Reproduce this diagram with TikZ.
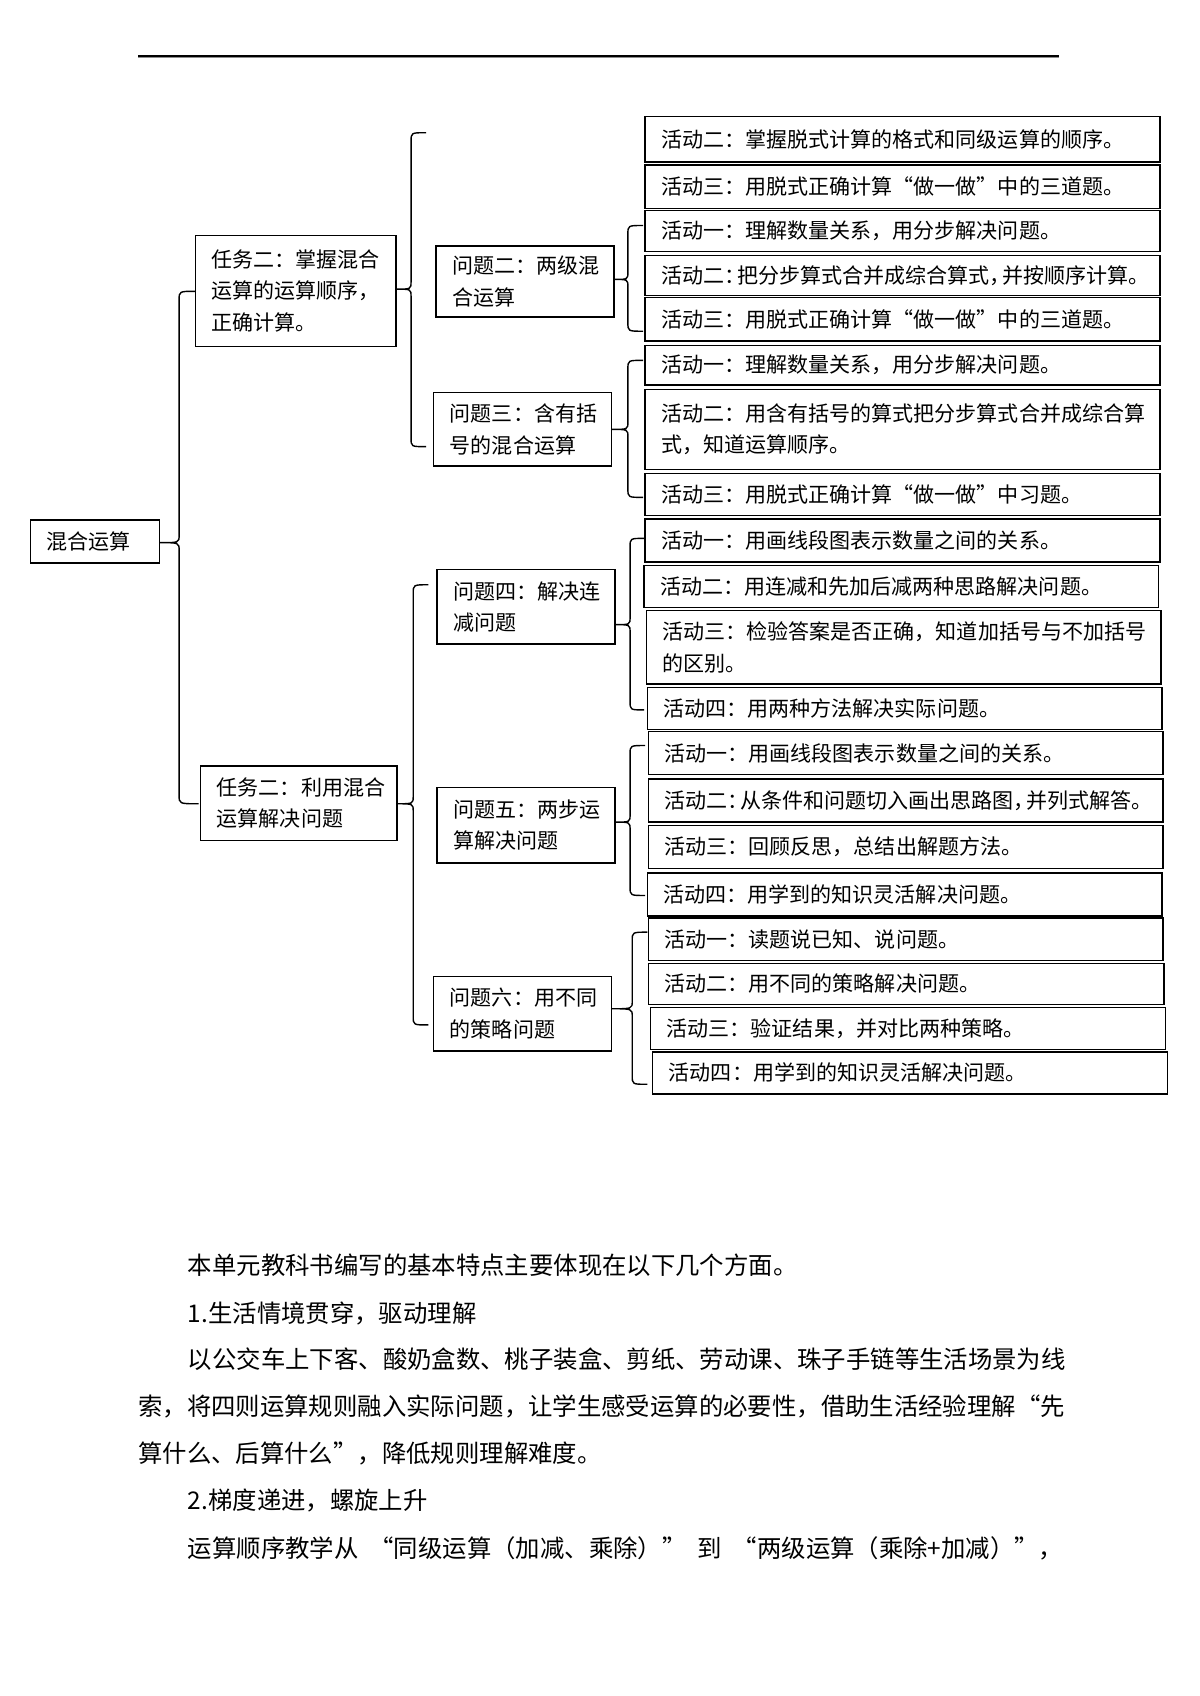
\documentclass[tikz,border=0pt]{standalone}
\usepackage{fontspec}
\setmainfont{Noto Sans CJK SC}
\newcommand{\abox}[6]{%
  \pgfmathsetmacro{\tw}{#4-30}%
  \node[box, minimum width=#4pt, minimum height=#5pt, text width=\tw pt] (#1) at (#2,#3) {#6};}
% #1 parent, #2 tip y, #3 x of vertical, #4 top hook x, #5 top y, #6 bottom hook x, #7 bottom y
\newcommand{\mybrace}[7]{%
  \draw[bracestyle] (#4,#5) .. controls (#3,#5) .. (#3,#5+8) -- (#3,#2-7)
    .. controls (#3,#2) .. (#1.east |- 0,#2)
    .. controls (#3,#2) .. (#3,#2+7) -- (#3,#7-8)
    .. controls (#3,#7) .. (#6,#7);}
\newcommand{\pk}{\kern-0.4em}
\begin{document}
\begin{tikzpicture}[x=1pt,y=-1pt,
  box/.style={draw=black, line width=1.3pt, rectangle, anchor=north west,
    inner xsep=15pt, inner ysep=0pt, outer sep=0pt, align=left,
    font=\fontsize{19.5}{29}\selectfont},
  bracestyle/.style={draw=black, line width=1.3pt},
  body/.style={anchor=west, inner sep=0pt, font=\fontsize{22.6}{30}\selectfont}]
\useasboundingbox (0,0) rectangle (1112,1572);
\fill[white] (0,0) rectangle (1112,1572);
% top rule
\draw[line width=1.6pt] (128,52) -- (982,52);
\draw[line width=0.8pt, black!45] (128,53.6) -- (982,53.6);

% root and tasks
\abox{root}{28}{482}{120}{40}{混合运算}
\abox{t1}{181}{218}{186}{103}{任务二：掌握混合\\运算的运算顺序，\\正确计算。}
\abox{t2}{186}{710}{182}{69}{任务二：利用混合\\运算解决问题}

% problems
\abox{p2}{404}{228}{165}{66}{问题二：两级混\\合运算}
\abox{p3}{402}{364}{165}{68}{问题三：含有括\\号的混合运算}
\abox{p4}{405}{528}{165}{69}{问题四：解决连\\减问题}
\abox{p5}{405}{730}{165}{70}{问题五：两步运\\算解决问题}
\abox{p6}{402}{905}{165}{69}{问题六：用不同\\的策略问题}

% activities
\abox{a1}{598}{108}{477}{42}{活动二：掌握脱式计算的格式和同级运算的顺序。}
\abox{a2}{598}{153}{477}{40}{活动三：用脱式正确计算“做一做”中的三道题。}
\abox{a3}{598}{195}{477}{38}{活动一：理解数量关系，用分步解决问题。}
\abox{a4}{598}{237}{477}{37}{活动二：\pk 把分步算式合并成综合算式，\pk 并按顺序计算。}
\abox{a5}{598}{276}{477}{40}{活动三：用脱式正确计算“做一做”中的三道题。}
\abox{a6}{598}{320}{477}{37}{活动一：理解数量关系，用分步解决问题。}
\abox{a7}{598}{361}{477}{74}{活动二：用含有括号的算式把分步算式合并成综合算\\式，知道运算顺序。}
\abox{a8}{598}{439}{477}{39}{活动三：用脱式正确计算“做一做”中习题。}
\abox{a9}{598}{481}{477}{40}{活动一：用画线段图表示数量之间的关系。}
\abox{a10}{597}{524}{477}{39}{活动二：用连减和先加后减两种思路解决问题。}
\abox{a11}{599}{566}{477}{68}{活动三：检验答案是否正确，知道加括号与不加括号\\的区别。}
\abox{a12}{600}{637}{477}{39}{活动四：用两种方法解决实际问题。}
\abox{a13}{601}{678}{477}{40}{活动一：用画线段图表示数量之间的关系。}
\abox{a14}{601}{722}{477}{40}{活动二：\pk 从条件和问题切入画出思路图，\pk 并列式解答。}
\abox{a15}{601}{765}{477}{40}{活动三：回顾反思，总结出解题方法。}
\abox{a16}{600}{809}{477}{40}{活动四：用学到的知识灵活解决问题。}
\abox{a17}{601}{851}{477}{39}{活动一：读题说已知、说问题。}
\abox{a18}{601}{893}{478}{38}{活动二：用不同的策略解决问题。}
\abox{a19}{603}{934}{477}{39}{活动三：验证结果，并对比两种策略。}
\abox{a20}{605}{975}{477}{39}{活动四：用学到的知识灵活解决问题。}

% braces
\mybrace{root}{503}{166}{181}{270}{184}{745}
\mybrace{t1}{268}{381}{395}{123}{395}{414}
\mybrace{t2}{745}{383}{397}{542}{397}{950}
\mybrace{p2}{259}{582}{596}{209}{596}{307}
\mybrace{p3}{398}{582}{596}{334}{596}{461}
\mybrace{p4}{579}{584}{597}{499}{597}{658}
\mybrace{p5}{762}{584}{598}{691}{598}{830}
\mybrace{p6}{935}{586}{600}{864}{600}{1005}

% body text
\node[body] (b1) at (174,1173) {本单元教科书编写的基本特点主要体现在以下几个方面。};
\node[body] (b2) at (174,1217) {1.生活情境贯穿，驱动理解};
\node[body] (b3) at (174,1260) {以公交车上下客、酸奶盒数、桃子装盒、剪纸、劳动课、珠子手链等生活场景为线};
\node[body] (b4) at (128,1304) {索，将四则运算规则融入实际问题，让学生感受运算的必要性，借助生活经验理解“先};
\node[body] (b5) at (128,1347) {算什么、后算什么”，降低规则理解难度。};
\node[body] (b6) at (174,1391) {2.梯度递进，螺旋上升};
\node[body] (b7) at (174,1435) {运算顺序教学从\hspace{0.45em}“同级运算（加减、乘除）”\hspace{0.45em}到\hspace{0.45em}“两级运算（乘除+加减）”，};
\end{tikzpicture}
\end{document}
